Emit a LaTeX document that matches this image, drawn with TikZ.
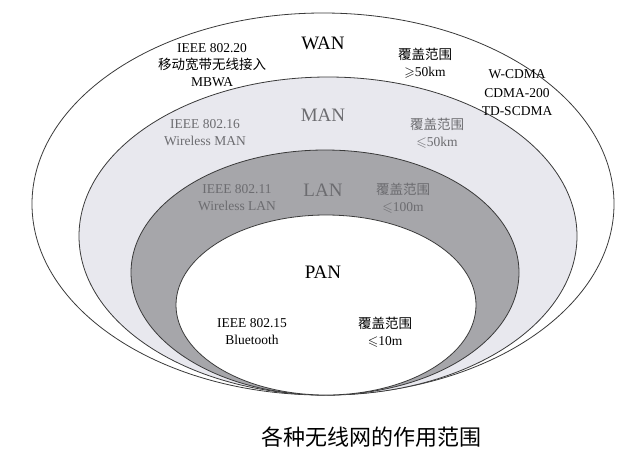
\documentclass[tikz,border=0pt]{standalone}
\usepackage{amssymb}
\usepackage{fontspec}
\setmainfont{Liberation Serif}
\newfontfamily\cjk{Noto Sans CJK SC}
\usepackage{tikz}

\definecolor{manfill}{HTML}{E8E8EE}
\definecolor{lanfill}{HTML}{A6A6AA}
\definecolor{rimcol}{HTML}{3A3A3A}
\definecolor{fadetxt}{HTML}{6C6C70}

\begin{document}
\begin{tikzpicture}[x=1pt,y=-1pt,
      zone/.style={draw=rimcol, line width=0.8pt},
      netname/.style={font=\fontsize{19}{22}\selectfont},
      info/.style={align=center, inner sep=0pt, font=\fontsize{13.5}{17}\selectfont},
      faded/.style={text=fadetxt}
    ]
    \useasboundingbox (0,0) rectangle (644,461);

    % nested coverage areas, all touching at the bottom
    \draw[zone, fill=white] (323,204) ellipse [x radius=291pt, y radius=191pt];
    \draw[zone, fill=manfill] (328,236) ellipse [x radius=249pt, y radius=159pt];
    \draw[zone, fill=lanfill] (325,272.5) ellipse [x radius=194pt, y radius=122.5pt];
    \draw[zone, fill=white] (326,305) ellipse [x radius=150pt, y radius=90pt];

    % WAN
    \node[netname] (wan) at (323,43) {WAN};
    \node[info] (ieee20) at (212,65) {IEEE 802.20\\{\cjk 移动宽带无线接入}\\MBWA};
    \node[info] (wanrange) at (425,63) {{\cjk 覆盖范围}\\$\geqslant$50km};
    \node[info, font=\fontsize{13.5}{18.5}\selectfont] (cellular) at (517,93) {W-CDMA\\CDMA-200\\TD-SCDMA};

    % MAN
    \node[netname, faded] (man) at (323,115) {MAN};
    \node[info, faded] (ieee16) at (205,133) {IEEE 802.16\\Wireless MAN};
    \node[info, faded] (manrange) at (437,133) {{\cjk 覆盖范围}\\$\leqslant$50km};

    % LAN
    \node[netname, faded] (lan) at (323,190) {LAN};
    \node[info, faded] (ieee11) at (237,198) {IEEE 802.11\\Wireless LAN};
    \node[info, faded] (lanrange) at (403,198) {{\cjk 覆盖范围}\\$\leqslant$100m};

    % PAN
    \node[netname] (pan) at (323,272) {PAN};
    \node[info] (ieee15) at (252,332) {IEEE 802.15\\Bluetooth};
    \node[info] (panrange) at (385,332) {{\cjk 覆盖范围}\\$\leqslant$10m};

    \node[font=\cjk\fontsize{22}{24}\selectfont] (caption) at (371,437) {各种无线网的作用范围};
  \end{tikzpicture}
\end{document}
